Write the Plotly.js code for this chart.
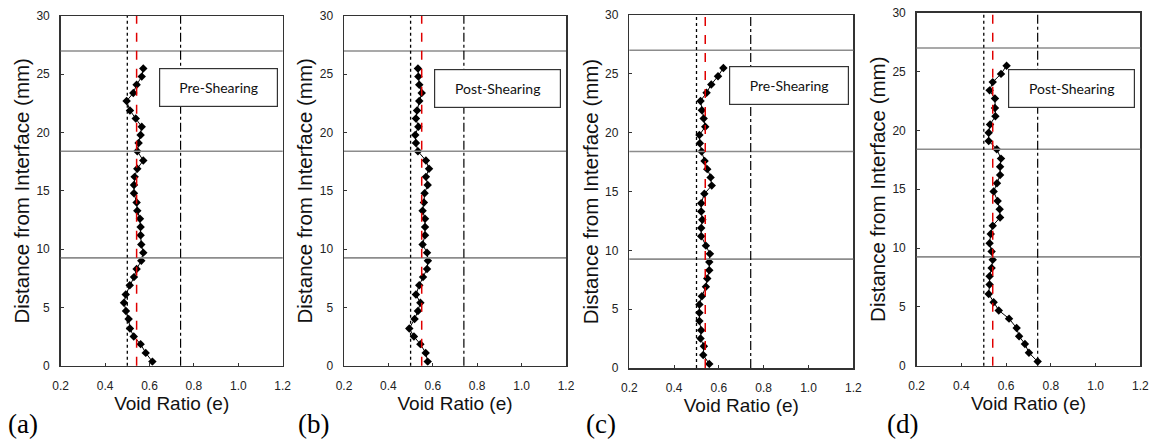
<!DOCTYPE html>
<html>
<head>
<meta charset="utf-8">
<script src="https://cdn.plot.ly/plotly-3.0.1.min.js"></script>
<style>html,body{margin:0;padding:0;background:#fff;}#chart{width:1155px;height:443px;}</style>
</head>
<body>
<div id="chart"></div>
<script>
// Distance from interface (mm) for each measured slice (shared by all panels)
const distance = [0.35, 1.1, 1.85, 2.5, 3.2, 4.0, 4.7, 5.4, 6.1, 6.9, 7.6, 8.3, 9.0, 9.7, 10.4, 11.2, 11.9, 12.6,
  13.3, 14.0, 14.8, 15.5, 16.2, 16.9, 17.6, 18.4, 19.1, 19.8, 20.5, 21.2, 21.9, 22.7, 23.4, 24.1, 24.8, 25.5];

// Void ratio profiles
const voidA = [0.613, 0.583, 0.560, 0.529, 0.512, 0.506, 0.494, 0.485, 0.493, 0.511, 0.530, 0.542, 0.563, 0.572,
  0.563, 0.560, 0.560, 0.557, 0.545, 0.542, 0.530, 0.530, 0.533, 0.545, 0.572, 0.545, 0.551, 0.560, 0.565, 0.538,
  0.512, 0.497, 0.527, 0.542, 0.565, 0.572];
const voidB = [0.577, 0.568, 0.544, 0.515, 0.494, 0.518, 0.533, 0.544, 0.524, 0.539, 0.556, 0.574, 0.578, 0.574,
  0.554, 0.565, 0.565, 0.565, 0.554, 0.560, 0.563, 0.577, 0.569, 0.583, 0.569, 0.533, 0.524, 0.521, 0.535, 0.524,
  0.529, 0.539, 0.550, 0.539, 0.535, 0.533];
const voidC = [0.557, 0.530, 0.533, 0.518, 0.521, 0.513, 0.513, 0.513, 0.524, 0.542, 0.548, 0.557, 0.557, 0.560,
  0.542, 0.521, 0.521, 0.526, 0.521, 0.521, 0.535, 0.568, 0.563, 0.548, 0.536, 0.523, 0.515, 0.513, 0.539, 0.532,
  0.524, 0.518, 0.545, 0.566, 0.596, 0.620];
const voidD = [0.741, 0.702, 0.684, 0.658, 0.647, 0.613, 0.567, 0.544, 0.522, 0.526, 0.526, 0.535, 0.540, 0.535,
  0.526, 0.531, 0.540, 0.573, 0.571, 0.562, 0.544, 0.559, 0.573, 0.573, 0.577, 0.558, 0.522, 0.522, 0.528, 0.552,
  0.550, 0.550, 0.526, 0.540, 0.577, 0.602];

// Reference lines
const eMin = [0.5, 0.5, 0.5, 0.5];          // dotted
const eMean = [0.542, 0.55, 0.539, 0.54];   // red dashed
const eMax = [0.74, 0.74, 0.742, 0.741];    // dash-dot
const layerBounds = [9.25, 18.4, 27.0];     // horizontal layer lines

const boxLabels = ["Pre-Shearing", "Post-Shearing", "Pre-Shearing", "Post-Shearing"];
const panelLabels = ["(a)", "(b)", "(c)", "(d)"];
const xTicks = [0.2, 0.4, 0.6, 0.8, 1.0, 1.2];
const xTickText = ["0.2", "0.4", "0.6", "0.8", "1.0", "1.2"];
const yTicks = [0, 5, 10, 15, 20, 25, 30];

const series = [voidA, voidB, voidC, voidD];

// layout geometry (pixels)
const W = 1155, H = 443;
const boxes = [
  {l: 60.7, r: 282.7, t: 16, b: 365.7},
  {l: 344, r: 566, t: 16, b: 365.7},
  {l: 629.3, r: 853.3, t: 15, b: 368},
  {l: 916.7, r: 1140.3, t: 12.7, b: 365.7}
];
const legendPos = [
  {x: 0.711, y: 0.796, w: 117, h: 37},
  {x: 0.691, y: 0.793, w: 125, h: 37},
  {x: 0.712, y: 0.800, w: 118, h: 37},
  {x: 0.694, y: 0.786, w: 125, h: 37}
];
const panelLabelX = [6, 296, 584, 885];

const traces = [];
const shapes = [];
const annotations = [];
const layout = {
  width: W, height: H,
  margin: {l: 0, r: 0, t: 0, b: 0},
  paper_bgcolor: '#fff', plot_bgcolor: '#fff',
  showlegend: false,
  font: {family: 'Liberation Sans, Arial, sans-serif', color: '#222'},
  shapes: shapes, annotations: annotations
};

series.forEach((vals, i) => {
  const n = i === 0 ? '' : String(i + 1);
  const xa = 'x' + n, ya = 'y' + n;
  traces.push({
    x: vals, y: distance, xaxis: xa, yaxis: ya,
    type: 'scatter', mode: 'lines+markers',
    line: {color: '#000', width: 1},
    marker: {symbol: 'diamond', size: 6.5, color: '#000'},
    hoverinfo: 'x+y'
  });
  const bx = boxes[i];
  const axisCommon = {
    showline: true, mirror: true, linecolor: '#333', linewidth: 1.5,
    ticks: 'inside', ticklen: 3, tickcolor: '#333',
    showgrid: false, zeroline: false,
    tickfont: {size: 12, family: 'Liberation Sans, Arial, sans-serif', color: '#222'}
  };
  layout['xaxis' + n] = Object.assign({}, axisCommon, {
    domain: [bx.l / W, bx.r / W], anchor: ya,
    range: [0.2, 1.2], tickvals: xTicks, ticktext: xTickText,
    ticklabelstandoff: 8,
    title: {text: 'Void Ratio (e)', font: {size: 19, color: '#111'}, standoff: 3}
  });
  layout['yaxis' + n] = Object.assign({}, axisCommon, {
    domain: [1 - bx.b / H, 1 - bx.t / H], anchor: xa,
    range: [0, 30], tickvals: yTicks,
    ticklabelstandoff: 7,
    title: {text: 'Distance from Interface (mm)', font: {size: 20.5, color: '#111'}, standoff: 1}
  });
  // layer boundaries
  layerBounds.forEach(yv => shapes.push({
    type: 'line', xref: xa + ' domain', yref: ya, x0: 0, x1: 1, y0: yv, y1: yv,
    line: {color: '#8c8c8c', width: 1.6}
  }));
  // vertical reference lines
  shapes.push({type: 'line', xref: xa, yref: ya + ' domain', x0: eMin[i], x1: eMin[i], y0: 0, y1: 1,
    line: {color: '#000', width: 1.3, dash: 'dot'}});
  shapes.push({type: 'line', xref: xa, yref: ya + ' domain', x0: eMax[i], x1: eMax[i], y0: 0, y1: 1,
    line: {color: '#000', width: 1.2, dash: 'dashdot'}});
  shapes.push({type: 'line', xref: xa, yref: ya + ' domain', x0: eMean[i], x1: eMean[i], y0: 0, y1: 1,
    line: {color: '#e00000', width: 1.5, dash: 'dash'}});
  // legend-like box
  const lp = legendPos[i];
  annotations.push({
    xref: xa + ' domain', yref: ya + ' domain', x: lp.x, y: lp.y,
    xanchor: 'center', yanchor: 'middle', showarrow: false,
    text: boxLabels[i], width: lp.w, height: lp.h, align: 'center', valign: 'middle',
    bgcolor: '#fff', bordercolor: '#333', borderwidth: 1.2, borderpad: 0,
    font: {family: 'Lato, Open Sans, sans-serif', size: 14, color: '#111'}
  });
  // panel label
  annotations.push({
    xref: 'paper', yref: 'paper', x: panelLabelX[i] / W, y: 1 - 424 / H,
    xanchor: 'left', yanchor: 'middle', showarrow: false,
    text: panelLabels[i],
    font: {family: 'Liberation Serif, Times New Roman, serif', size: 27, color: '#000'}
  });
});

Plotly.newPlot('chart', traces, layout, {displayModeBar: false, staticPlot: true});
</script>
</body>
</html>
